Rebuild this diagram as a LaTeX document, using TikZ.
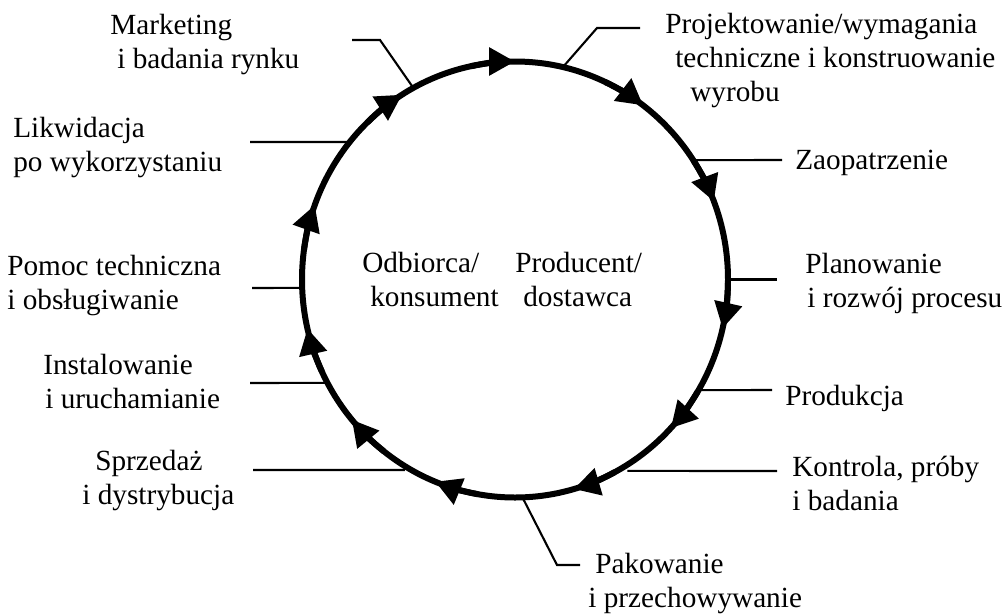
\documentclass[tikz,border=0pt]{standalone}
\usepackage{fontspec}
\setmainfont{Liberation Serif}
\usetikzlibrary{arrows.meta}
\tikzset{
  cycle line/.style={
    line width=0.12cm,
  },
  flow/.style={
    line width=0.12cm,
    -{Triangle[length=0.52cm, width=0.54cm]},
  },
  leader/.style={
    line width=0.042cm,
  },
  label text/.style={
    inner sep=0pt,
    anchor=north west,
    align=left,
  },
}

\begin{document}
\begin{tikzpicture}[x=0.02cm, y=-0.02cm, font=\fontsize{16.65}{19.35}\selectfont]
\useasboundingbox (0,0) rectangle (1004,613);
\coordinate (ctr) at (515,279.5);
\draw[cycle line] (ctr) ellipse[x radius=213, y radius=218];
\foreach \a in { -90,-53,-21,13,43,74,112,140,167,200,238 }
  \draw[flow] (ctr) ++(\a-12:213 and 218)
    arc[start angle=\a-12, end angle=\a, x radius=213, y radius=218];

\foreach \n/\a in { mkt/241.5, proj/283, zao/-33.2, pla/0, pro/30.5, kon/61.4,
                    pak/88, spr/119.1, ins/151.7, pom/177.8, lik/219.1 }
  \path (ctr) ++(\a:213 and 218) coordinate (c-\n);

\coordinate (b-mkt) at (380,40);
\coordinate (e-mkt) at (352,40);
\coordinate (b-proj) at (597,28);
\coordinate (e-proj) at (640,28);
\coordinate (e-zao) at (782,160);
\coordinate (e-pla) at (777,279.5);
\coordinate (e-pro) at (772,390);
\coordinate (e-kon) at (777,471);
\coordinate (b-pak) at (557,565);
\coordinate (e-pak) at (580,565);
\coordinate (e-spr) at (253,470);
\coordinate (e-ins) at (250,383);
\coordinate (e-pom) at (252,288);
\coordinate (e-lik) at (250,142);

\node[label text] (mkt) at (110,14) {Marketing\\\hspace*{0.14cm}i badania rynku};
\node[label text] (proj) at (665,13) {Projektowanie/wymagania\\\hspace*{0.2cm}techniczne i konstruowanie\\\hspace*{0.5cm}wyrobu};
\node[label text] (zao) at (795,150) {Zaopatrzenie};
\node[label text] (pla) at (805,253) {Planowanie\\\hspace*{0.04cm}i rozwój procesu};
\node[label text] (pro) at (785,385) {Produkcja};
\node[label text] (kon) at (792,456) {Kontrola, próby\\i badania};
\node[label text] (pak) at (588,553) {\hspace*{0.14cm}Pakowanie\\i przechowywanie};
\node[label text] (spr) at (82,450) {\hspace*{0.26cm}Sprzedaż\\i dystrybucja};
\node[label text] (ins) at (43,354) {Instalowanie\\\hspace*{0.04cm}i uruchamianie};
\node[label text] (pom) at (7,255) {Pomoc techniczna\\i obsługiwanie};
\node[label text] (lik) at (13,117) {Likwidacja\\po wykorzystaniu};
\node[label text] (odb) at (362,252) {Odbiorca/\\\hspace*{0.16cm}konsument};
\node[label text] (prd) at (515,252) {Producent/\\\hspace*{0.16cm}dostawca};

\begin{scope}[leader]
  \draw (c-mkt) -- (b-mkt) -- (e-mkt);
  \draw (c-proj) -- (b-proj) -- (e-proj);
  \draw (c-zao) -- (e-zao);
  \draw (c-pla) -- (e-pla);
  \draw (c-pro) -- (e-pro);
  \draw[shorten <=0.21cm] (c-kon) -- (e-kon);
  \draw (c-pak) -- (b-pak) -- (e-pak);
  \draw[shorten <=0.13cm] (c-spr) -- (e-spr);
  \draw (c-ins) -- (e-ins);
  \draw (c-pom) -- (e-pom);
  \draw (c-lik) -- (e-lik);
\end{scope}
\end{tikzpicture}
\end{document}
